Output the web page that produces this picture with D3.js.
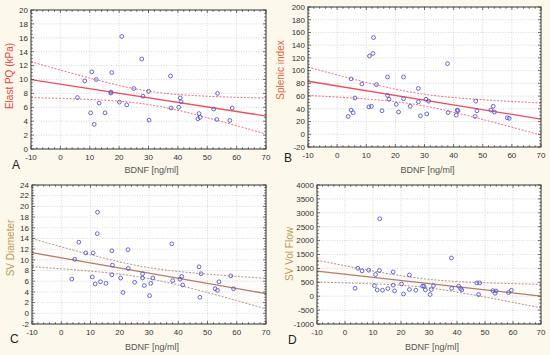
<!DOCTYPE html>
<html>
<head>
<meta charset="utf-8">
<script src="https://cdnjs.cloudflare.com/ajax/libs/d3/7.8.5/d3.min.js"></script>
<style>
html, body { margin: 0; padding: 0; background: #fdf8ec; }
svg { display: block; font-family: "Liberation Sans", Arial, sans-serif; }
.tick-label { font-size: 8px; fill: #333; }
.axis-title { font-size: 9px; fill: #555; }
.y-title { font-size: 10px; }
.panel-letter { font-size: 12px; fill: #222; }
</style>
</head>
<body>
<div id="chart"></div>
<script>
// x values (BDNF, ng/ml) and y values
var xTicks = [-10, 0, 10, 20, 30, 40, 50, 60, 70];

var bdnfA = [5.8, 8.3, 10.7, 12.2, 10.3, 11.5, 13.2, 15.2, 17.5, 17.2, 17.2, 20.1, 20.9, 22.6, 25.0, 27.7,
	28.1, 30.0, 30.2, 37.5, 37.7, 40.3, 40.8, 41.1, 46.8, 47.2, 47.6, 52.2, 53.2, 53.5, 57.7, 58.5];
var elastA = [7.4, 9.8, 11.1, 10.0, 5.2, 3.55, 6.6, 5.2, 11.0, 8.2, 8.05, 6.75, 16.2, 6.35, 8.7, 12.95,
	7.6, 8.3, 4.15, 10.5, 5.9, 6.0, 7.35, 6.8, 4.35, 5.1, 4.55, 5.75, 4.25, 8.0, 4.1, 5.9];
var yTicksA = [0, 2, 4, 6, 8, 10, 12, 14, 16, 18, 20];

var bdnfB = [3.8, 4.8, 4.8, 5.5, 6.1, 8.5, 10.9, 11.1, 11.8, 12.3, 12.5, 13.5, 15.4, 17.3, 17.3, 17.8,
	20.3, 21.1, 22.8, 22.8, 25.1, 27.9, 27.9, 28.6, 30.5, 30.8, 31.4, 37.9, 38.1, 40.9, 41.2, 41.5,
	47.4, 47.6, 48.0, 52.8, 53.6, 54.0, 58.4, 59.1];
var splenicB = [28, 38, 87, 34, 57, 79, 43, 123, 44, 127, 152, 78, 37, 90, 61, 55,
	47, 35, 90, 56, 44, 72, 51, 29, 55, 32, 52, 111, 34, 30, 38, 37,
	28, 52, 37, 38, 44, 35, 26, 25];
var yTicksB = [-20, 0, 20, 40, 60, 80, 100, 120, 140, 160, 180, 200];

var bdnfC = [3.6, 4.6, 6.0, 8.4, 10.6, 10.9, 11.6, 12.3, 12.4, 13.4, 15.3, 17.3, 17.5, 17.3, 20.3, 21.1,
	22.8, 22.9, 25.1, 27.8, 27.8, 28.4, 30.2, 30.6, 31.3, 37.8, 38.1, 40.6, 41.2, 41.5, 47.1, 47.4,
	47.8, 52.6, 53.4, 53.9, 58.0, 58.9];
var diameterC = [6.4, 10.1, 13.3, 11.3, 6.8, 11.3, 5.5, 14.9, 18.9, 5.9, 5.6, 11.7, 9.0, 7.2, 6.6, 3.9,
	11.9, 8.4, 5.8, 7.4, 6.6, 5.2, 3.3, 5.6, 6.6, 13.0, 6.1, 6.4, 6.9, 5.3, 8.7, 3.0,
	7.4, 4.6, 4.3, 5.9, 7.0, 4.6];
var yTicksC = [-2, 0, 2, 4, 6, 8, 10, 12, 14, 16, 18, 20, 22, 24];

var bdnfD = [3.6, 4.6, 6.1, 8.5, 10.5, 10.9, 11.5, 12.4, 12.3, 13.4, 15.3, 17.2, 17.2, 17.7, 20.2, 20.9,
	23.0, 23.0, 25.3, 27.7, 28.2, 28.7, 30.4, 30.8, 31.6, 38.0, 38.1, 40.6, 41.3, 41.7, 47.1, 47.7,
	48.1, 52.8, 53.6, 53.9, 58.4, 59.4];
var flowD = [285, 1005, 910, 935, 380, 780, 225, 2785, 925, 215, 275, 875, 395, 190, 440, 80,
	765, 240, 215, 360, 360, 225, 60, 240, 380, 1375, 285, 360, 275, 225, 480, 60,
	480, 200, 105, 190, 130, 215];
var yTicksD = [-1000, -500, 0, 500, 1000, 1500, 2000, 2500, 3000, 3500, 4000];

var W = 550, H = 355;

var svg = d3.select("#chart").append("svg").attr("width", W).attr("height", H);
svg.append("rect").attr("width", W).attr("height", H).attr("fill", "#fdf8ec");

// least squares fit and 95% confidence band of the mean
function fit(xs, ys) {
	var n = xs.length;
	var mx = d3.mean(xs), my = d3.mean(ys);
	var sxx = d3.sum(xs, function (x) { return (x - mx) * (x - mx); });
	var sxy = d3.sum(xs, function (x, i) { return (x - mx) * (ys[i] - my); });
	var b = sxy / sxx, a = my - b * mx;
	var sse = d3.sum(xs, function (x, i) { var r = ys[i] - (a + b * x); return r * r; });
	var s = Math.sqrt(sse / (n - 2));
	var t = 2.03;
	return {
		y: function (x) { return a + b * x; },
		ci: function (x) { return t * s * Math.sqrt(1 / n + (x - mx) * (x - mx) / sxx); }
	};
}

function panel(o) {
	var g = svg.append("g");
	var x = d3.scaleLinear().domain([-10, 70]).range([o.left, o.right]);
	var y = d3.scaleLinear().domain([o.yTicks[0], o.yTicks[o.yTicks.length - 1]]).range([o.bottom, o.top]);

	g.append("rect")
		.attr("x", o.left).attr("y", o.top)
		.attr("width", o.right - o.left).attr("height", o.bottom - o.top)
		.attr("fill", "#fff");

	// grid
	g.selectAll(".gx").data(xTicks.slice(1, -1)).join("line")
		.attr("x1", function (d) { return x(d); }).attr("x2", function (d) { return x(d); })
		.attr("y1", o.top).attr("y2", o.bottom)
		.attr("stroke", "#c8c8c8").attr("stroke-width", 0.7).attr("stroke-dasharray", "1,1.5");
	g.selectAll(".gy").data(o.yTicks.slice(1, -1)).join("line")
		.attr("y1", function (d) { return y(d); }).attr("y2", function (d) { return y(d); })
		.attr("x1", o.left).attr("x2", o.right)
		.attr("stroke", "#c8c8c8").attr("stroke-width", 0.7).attr("stroke-dasharray", "1,1.5");

	// regression and band
	var f = fit(o.xs, o.ys);
	var xs = d3.range(-10, 70.01, 1);
	var clip = "clip" + o.letter;
	g.append("clipPath").attr("id", clip).append("rect")
		.attr("x", o.left).attr("y", o.top)
		.attr("width", o.right - o.left).attr("height", o.bottom - o.top);
	var gc = g.append("g").attr("clip-path", "url(#" + clip + ")");
	if (o.bandFill) {
		gc.append("path")
			.attr("d", d3.area()
				.x(function (d) { return x(d); })
				.y0(function (d) { return y(f.y(d) - f.ci(d)); })
				.y1(function (d) { return y(f.y(d) + f.ci(d)); })(xs))
			.attr("fill", o.bandFill);
	}
	[-1, 1].forEach(function (sgn) {
		gc.append("path")
			.attr("d", d3.line()
				.x(function (d) { return x(d); })
				.y(function (d) { return y(f.y(d) + sgn * f.ci(d)); })(xs))
			.attr("fill", "none").attr("stroke", o.bandColor)
			.attr("stroke-width", 1).attr("stroke-dasharray", "2,1.5");
	});
	gc.append("line")
		.attr("x1", x(-10)).attr("y1", y(f.y(-10)))
		.attr("x2", x(70)).attr("y2", y(f.y(70)))
		.attr("stroke", o.lineColor).attr("stroke-width", 1.3);

	// points
	g.selectAll(".pt").data(o.xs).join("circle")
		.attr("cx", function (d) { return x(d); })
		.attr("cy", function (d, i) { return y(o.ys[i]); })
		.attr("r", 1.9)
		.attr("fill", "none").attr("stroke", "#5656cc").attr("stroke-width", 0.9);

	// frame
	g.append("rect")
		.attr("x", o.left).attr("y", o.top)
		.attr("width", o.right - o.left).attr("height", o.bottom - o.top)
		.attr("fill", "none").attr("stroke", "#333").attr("stroke-width", 1);

	// minor ticks along the frame
	var xStep = 2, yStep = (o.yTicks[1] - o.yTicks[0]) / 4;
	var xm = d3.range(-10, 70.001, xStep);
	var ym = d3.range(o.yTicks[0], o.yTicks[o.yTicks.length - 1] + yStep / 2, yStep);
	[o.bottom, o.top].forEach(function (yy, k) {
		g.selectAll(null).data(xm).join("line")
			.attr("x1", function (d) { return x(d); }).attr("x2", function (d) { return x(d); })
			.attr("y1", yy).attr("y2", function (d) {
				var len = d % 10 === 0 ? 3 : 1.8;
				return k === 0 ? yy - len : yy + len;
			})
			.attr("stroke", "#333").attr("stroke-width", 0.7);
	});
	[o.left, o.right].forEach(function (xx, k) {
		g.selectAll(null).data(ym).join("line")
			.attr("y1", function (d) { return y(d); }).attr("y2", function (d) { return y(d); })
			.attr("x1", xx).attr("x2", function (d, i) {
				var len = i % 4 === 0 ? 3 : 1.8;
				return k === 0 ? xx + len : xx - len;
			})
			.attr("stroke", "#333").attr("stroke-width", 0.7);
	});

	// tick labels
	g.selectAll(".tx").data(xTicks).join("text")
		.attr("class", "tick-label")
		.attr("x", function (d) { return x(d); })
		.attr("y", o.bottom + 11)
		.attr("text-anchor", "middle")
		.text(function (d) { return d; });
	g.selectAll(".ty").data(o.yTicks).join("text")
		.attr("class", "tick-label")
		.attr("x", o.left - 3)
		.attr("y", function (d) { return y(d) + 2.8; })
		.attr("text-anchor", "end")
		.text(function (d) { return d; });

	// titles
	g.append("text").attr("class", "axis-title")
		.attr("x", (o.left + o.right) / 2 + 3).attr("y", o.bottom + o.xTitleDy)
		.attr("text-anchor", "middle").text("BDNF [ng/ml]");
	g.append("text").attr("class", "axis-title y-title")
		.attr("transform", "translate(" + o.yLabelX + "," + o.yLabelY + ") rotate(-90)")
		.attr("text-anchor", "middle").style("fill", o.labelColor)
		.text(o.yLabel);
	g.append("text").attr("class", "panel-letter")
		.attr("x", o.letterX).attr("y", o.letterY)
		.text(o.letter);
}

panel({
	letter: "A", letterX: 12, letterY: 169, xTitleDy: 24,
	left: 31, right: 266, top: 10, bottom: 149,
	xs: bdnfA, ys: elastA, yTicks: yTicksA, yLabel: "Elast PQ (kPa)", yLabelX: 13, yLabelY: 76,
	labelColor: "#e2483e", lineColor: "#ee4d5c", bandColor: "#ee6a78"
});
panel({
	letter: "B", letterX: 284, letterY: 162, xTitleDy: 26,
	left: 308, right: 541, top: 7, bottom: 147,
	xs: bdnfB, ys: splenicB, yTicks: yTicksB, yLabel: "Splenic index", yLabelX: 284, yLabelY: 70,
	labelColor: "#d9653e", lineColor: "#ee4d5c", bandColor: "#ee6a78"
});
panel({
	letter: "C", letterX: 10, letterY: 343, xTitleDy: 26,
	left: 32, right: 266, top: 185, bottom: 324,
	xs: bdnfC, ys: diameterC, yTicks: yTicksC, yLabel: "SV Diameter", yLabelX: 14, yLabelY: 248,
	labelColor: "#b89a55", lineColor: "#b07f62", bandColor: "#b39279", bandFill: "rgba(245,170,180,0.05)"
});
panel({
	letter: "D", letterX: 288, letterY: 344, xTitleDy: 26,
	left: 317, right: 541, top: 185, bottom: 324,
	xs: bdnfD, ys: flowD, yTicks: yTicksD, yLabel: "SV Vol Flow", yLabelX: 293, yLabelY: 254,
	labelColor: "#b89a55", lineColor: "#b07f62", bandColor: "#b39279", bandFill: "rgba(245,170,180,0.05)"
});
</script>
</body>
</html>
